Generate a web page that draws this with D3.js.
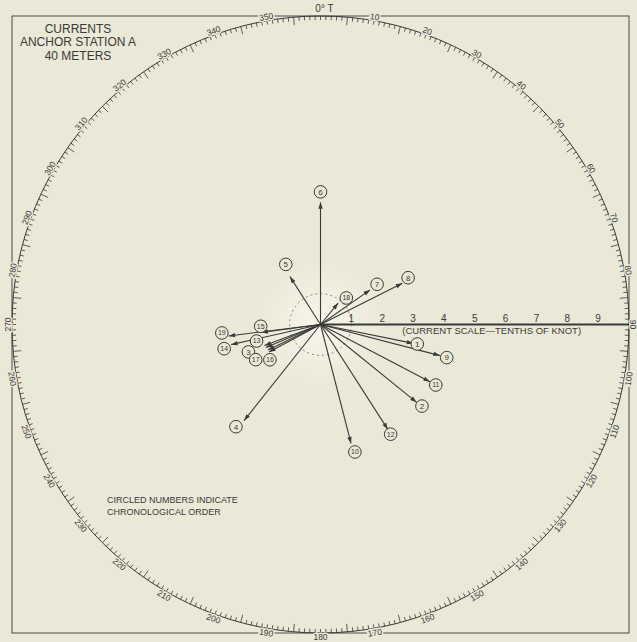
<!DOCTYPE html>
<html><head><meta charset="utf-8">
<script src="https://cdn.jsdelivr.net/npm/d3@7"></script>
<style>
body{margin:0;background:#eae8d6}
svg{display:block}
text{font-family:"Liberation Sans",Arial,Helvetica,sans-serif;fill:#3a3a38}
</style>
</head><body>
<svg id="c" width="637" height="642"></svg>
<script>
// ---- data ----
const obsIds        = [1,2,3,4,5,6,7,8,9,10,11,12,13,14,15,16,17,18,19];
const bearings      = [101.5,129.0,247.1,218.5,327.5,0,55.1,63.3,104.6,165.6,117.6,147.3,249.4,257.3,262.3,241.9,244.1,39.5,262.9];
const speeds        = [3.07,4.01,1.92,3.98,1.84,3.96,1.96,2.97,4.0,3.98,4.0,4.04,1.94,2.97,1.93,1.89,1.89,0.9,3.0]; // tenths of knot
const labelBearings = [101.4,128.8,249.2,219.6,330,0,54.6,61.9,104.7,164.9,117.7,147.4,255.5,255.9,268.3,235.1,241.5,44.2,265.1];
const labelDists    = [3.2,4.22,2.5,4.3,2.25,4.3,2.25,3.22,4.23,4.28,4.22,4.22,2.14,3.22,1.94,2.0,2.39,1.2,3.21];
const compassLabels = d3.range(0,360,10);
const scaleTicks    = [1,2,3,4,5,6,7,8,9];
const titleLines    = ["CURRENTS","ANCHOR STATION A","40 METERS"];
const noteLines     = ["CIRCLED NUMBERS INDICATE","CHRONOLOGICAL ORDER"];
const scaleTitle    = "(CURRENT SCALE\u2014TENTHS OF KNOT)";
const calmRadius    = 1; // tenths

// ---- layout ----
const W=637,H=642, cx=320.5, cy=324.5, R=308.5;
const ink="#3a3a38", bg="#eae8d6";
const svg=d3.select("#c");
const r=d3.scaleLinear().domain([0,10]).range([0,R]);
const ang=d3.scaleLinear().domain([0,360]).range([0,2*Math.PI]);
const P=(b,d)=>[cx+r(d)*Math.sin(ang(b)), cy-r(d)*Math.cos(ang(b))];
const Pp=(b,px)=>[cx+px*Math.sin(ang(b)), cy-px*Math.cos(ang(b))];

svg.append("rect").attr("width",W).attr("height",H).attr("fill",bg);
const defs=svg.append("defs");
const rg=defs.append("radialGradient").attr("id","glow");
rg.append("stop").attr("offset","0%").attr("stop-color","#f8f7ec").attr("stop-opacity",0.9);
rg.append("stop").attr("offset","100%").attr("stop-color","#f8f7ec").attr("stop-opacity",0);
svg.append("circle").attr("cx",cx).attr("cy",cy).attr("r",70).attr("fill","url(#glow)");

// frame
svg.append("rect").attr("x",cx-R).attr("y",cy-R).attr("width",2*R).attr("height",2*R)
  .attr("fill","none").attr("stroke",ink).attr("stroke-width",0.9);

// compass circle
svg.append("circle").attr("cx",cx).attr("cy",cy).attr("r",R).attr("fill","none").attr("stroke",ink).attr("stroke-width",1);

// ticks
const tickG=svg.append("g").attr("stroke",ink).attr("stroke-width",0.8);
d3.range(0,360,1).forEach(d=>{
  const len = (d%5===0 && d%10!==0) ? 8 : 4;
  const a=Pp(d,R), b=Pp(d,R-len);
  tickG.append("line").attr("x1",a[0]).attr("y1",a[1]).attr("x2",b[0]).attr("y2",b[1]);
});

// compass labels
const labG=svg.append("g");
compassLabels.forEach(d=>{
  if(d===0){
    labG.append("text").attr("x",cx+4).attr("y",cy-R-4).attr("text-anchor","middle")
      .attr("font-size",10).text("0\u00b0 T");
    return;
  }
  const bottom = d>90 && d<270;
  const p=Pp(d,R+1);
  labG.append("text").attr("transform",`translate(${p[0]},${p[1]}) rotate(${bottom?d-180:d})`)
    .attr("text-anchor","middle").attr("dominant-baseline",bottom?"hanging":"alphabetic")
    .attr("font-size",8.5).attr("stroke",bg).attr("stroke-width",3).attr("paint-order","stroke")
    .text(d);
});

// calm circle
svg.append("circle").attr("cx",cx).attr("cy",cy).attr("r",r(calmRadius)).attr("fill","none")
  .attr("stroke","#6a6a66").attr("stroke-width",0.8).attr("stroke-dasharray","2,3");

// scale bar
svg.append("line").attr("x1",cx).attr("y1",cy).attr("x2",P(90,10)[0]).attr("y2",cy)
  .attr("stroke",ink).attr("stroke-width",2.2);
svg.append("g").selectAll("text").data(scaleTicks).join("text")
  .attr("x",d=>P(90,d)[0]).attr("y",cy-3).attr("text-anchor","middle").attr("font-size",10).text(d=>d);
svg.append("text").attr("x",P(90,5.55)[0]).attr("y",cy+9).attr("text-anchor","middle")
  .attr("font-size",9.5).text(scaleTitle);

// arrows
const data=obsIds.map((id,i)=>({id,b:bearings[i],s:speeds[i],lb:labelBearings[i],ld:labelDists[i]}));
const arrG=svg.append("g");
data.forEach(d=>{
  const t=P(d.b,d.s);
  arrG.append("line").attr("x1",cx).attr("y1",cy).attr("x2",t[0]).attr("y2",t[1])
    .attr("stroke",ink).attr("stroke-width",1.1);
  const a=ang(d.b), ux=Math.sin(a), uy=-Math.cos(a), L=6.5, w=2.2;
  const bx=t[0]-ux*L, by=t[1]-uy*L;
  arrG.append("path").attr("d",`M${t[0]},${t[1]}L${bx-uy*w},${by+ux*w}L${bx+uy*w},${by-ux*w}Z`).attr("fill",ink);
});
const lab=svg.append("g").selectAll("g").data(data).join("g")
  .attr("transform",d=>{const p=P(d.lb,d.ld);return `translate(${p[0]},${p[1]})`;});
lab.append("circle").attr("r",6.3).attr("fill",bg).attr("stroke",ink).attr("stroke-width",1);
lab.append("text").attr("text-anchor","middle").attr("dy","0.35em").attr("font-size",d=>d.id>9?7:8).text(d=>d.id);

// titles
svg.append("g").selectAll("text").data(titleLines).join("text")
  .attr("x",78).attr("y",(d,i)=>32.5+i*13.7).attr("text-anchor","middle").attr("font-size",12).text(d=>d);
svg.append("g").selectAll("text").data(noteLines).join("text")
  .attr("x",107).attr("y",(d,i)=>502.5+i*12).attr("font-size",9).text(d=>d);
</script>
</body></html>
